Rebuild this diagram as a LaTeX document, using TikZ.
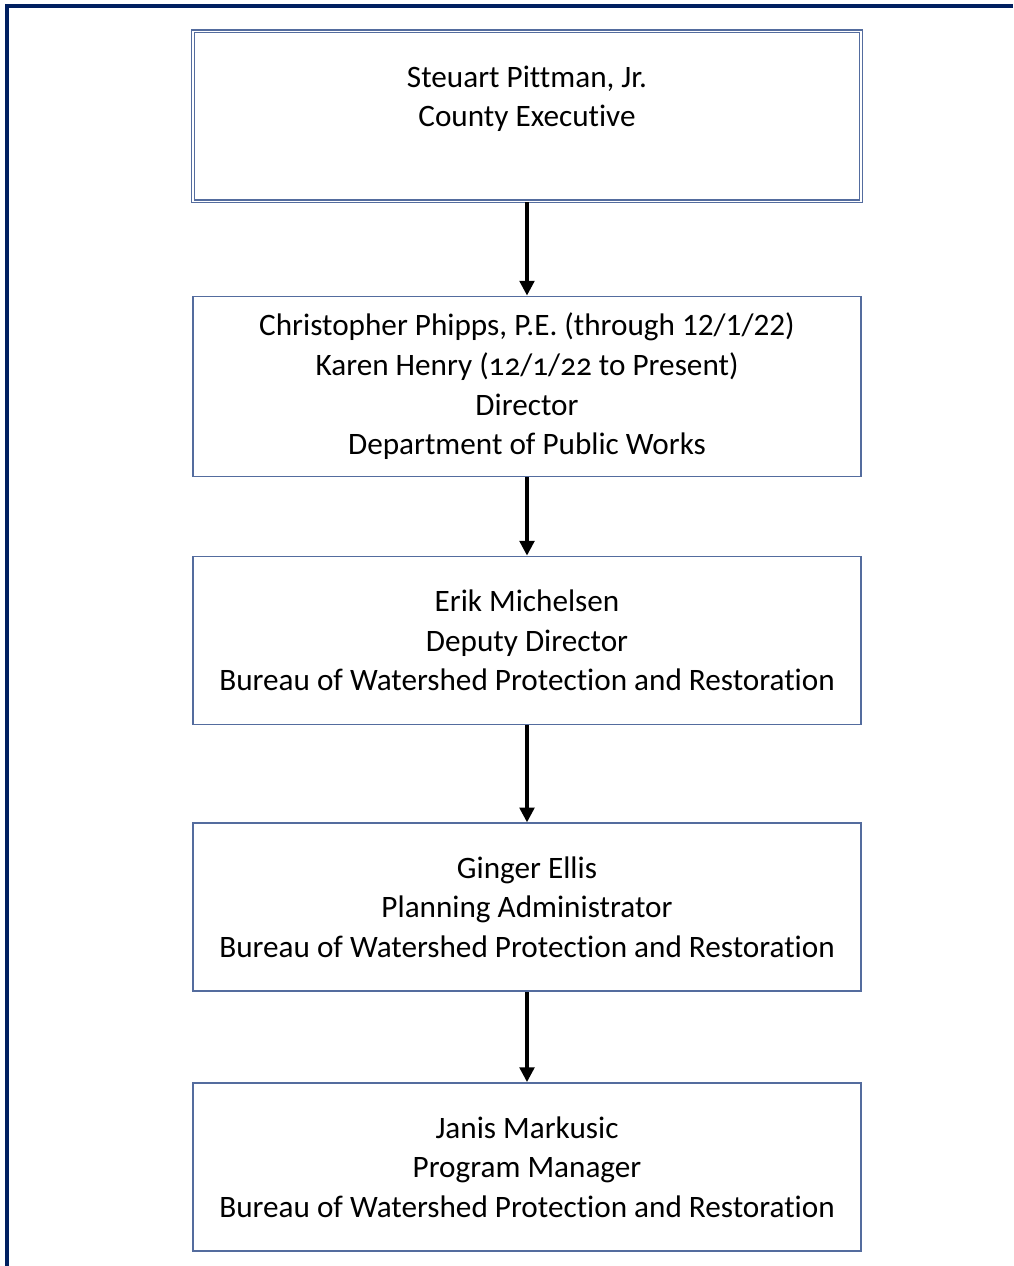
\documentclass[tikz,border=0pt]{standalone}
\usepackage{fontspec}
\setmainfont{Carlito}[Ligatures=NoCommon]
\usepackage{xcolor}
\usetikzlibrary{arrows.meta,positioning}
\definecolor{framenavy}{RGB}{0,32,96}
\definecolor{boxline}{RGB}{84,108,158}

\begin{document}
\begin{tikzpicture}[
  x=0.75pt, y=-0.75pt,
  node distance=70pt,
  box/.style={draw=boxline, line width=1.3pt, align=center, inner sep=0pt,
              font=\fontsize{23.4}{29.7}\selectfont,
              minimum width=501pt, minimum height=126pt},
  arr/.style={line width=2.4pt, -{Triangle[length=11pt,width=11pt]}}]
\useasboundingbox (0,0) rectangle (1013,1266);
% page frame (cut at right and bottom)
\draw[framenavy, line width=2.4pt] (1013,6) -| (7,1266);
\node[box, anchor=north, minimum height=127.5pt, double=white, double distance=0.8pt,
      line width=1pt] (exec) at (527,30.5)
  {Steuart Pittman, Jr.\\County Executive\\ \mbox{}};
\node[box, below=70.25pt of exec, minimum height=135pt] (dpw)
  {Christopher Phipps, P.E. (through 12/1/22)\\Karen Henry {\addfontfeatures{Numbers=OldStyle}(12/1/22 to Present)}\\Director\\Department of Public Works};
\node[box, below=58.75pt of dpw] (deputy)
  {Erik Michelsen\\Deputy Director\\Bureau of Watershed Protection and Restoration};
\node[box, below=72.75pt of deputy] (planning)
  {Ginger Ellis\\Planning Administrator\\Bureau of Watershed Protection and Restoration};
\node[box, below=67.5pt of planning] (program)
  {Janis Markusic\\Program Manager\\Bureau of Watershed Protection and Restoration};
\foreach \a/\b in {exec/dpw,dpw/deputy,deputy/planning,planning/program}
  \draw[arr] (\a) -- (\b);
\end{tikzpicture}
\end{document}
